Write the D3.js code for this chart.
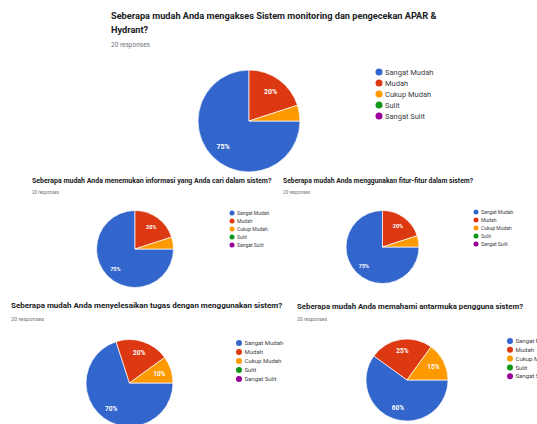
<!DOCTYPE html>
<html>
<head>
<meta charset="utf-8">
<script src="https://cdn.jsdelivr.net/npm/d3@7"></script>
<style>
  html, body { margin: 0; padding: 0; background: #fff; }
  svg { display: block; font-family: Roboto, Arial, sans-serif; }
  .title { fill: #202124; font-weight: 700; }
  .sub { fill: #70757a; }
  .legend text { fill: #3c4043; }
  .pct { fill: #fff; font-weight: 700; }
</style>
</head>
<body>
<svg id="vis"></svg>
<script>
// answer categories + colours (google forms palette)
const categories = ['Sangat Mudah', 'Mudah', 'Cukup Mudah', 'Sulit', 'Sangat Sulit'];
const colors = ['#3366cc', '#dc3912', '#ff9900', '#109618', '#990099'];

const titles = [
  ['Seberapa mudah Anda mengakses Sistem monitoring dan pengecekan APAR &', 'Hydrant?'],
  ['Seberapa mudah Anda menemukan informasi yang Anda cari dalam sistem?'],
  ['Seberapa mudah Anda menggunakan fitur-fitur dalam sistem?'],
  ['Seberapa mudah Anda menyelesaikan tugas dengan menggunakan sistem?'],
  ['Seberapa mudah Anda memahami antarmuka pengguna sistem?']
];
const responses = [20, 20, 20, 20, 20];

// percentages per question, same order as categories
const q1 = [75, 20, 5, 0, 0];
const q2 = [75, 20, 5, 0, 0];
const q3 = [75, 20, 5, 0, 0];
const q4 = [70, 20, 10, 0, 0];
const q5 = [60, 25, 15, 0, 0];
const values = [q1, q2, q3, q4, q5];

// where each screenshot panel sits on the page
const layout = [
  {tx: 111, ty: 19, lh: 14, ts: 9.2, sy: 46.5, ss: 6.5, cx: 249, cy: 121, r: 51, lx: 379, ly: 72, step: 11, dr: 3.5, ls: 7.5, ps: 7},
  {tx: 32, ty: 183, lh: 0, ts: 7, sy: 194, ss: 4.5, cx: 135, cy: 249, r: 38.5, lx: 232, ly: 213, step: 8, dr: 2.5, ls: 5, ps: 5.5},
  {tx: 283, ty: 183.3, lh: 0, ts: 6.8, sy: 194.3, ss: 4.5, cx: 382.5, cy: 247, r: 36.5, lx: 476, ly: 212, step: 8, dr: 2.5, ls: 5, ps: 5.5},
  {tx: 11, ty: 307.5, lh: 0, ts: 8, sy: 320.5, ss: 5.5, cx: 129.5, cy: 383, r: 43.5, lx: 239, ly: 343, step: 9, dr: 3, ls: 6, ps: 6.5},
  {tx: 297, ty: 308.5, lh: 0, ts: 7.8, sy: 321, ss: 5, cx: 407, cy: 380, r: 41, lx: 510, ly: 341, step: 8.8, dr: 3, ls: 6, ps: 6.5}
];

const W = 537, H = 424;
const svg = d3.select('#vis').attr('width', W).attr('height', H);

const color = d3.scaleOrdinal().domain(categories).range(colors);

// pie starts at 3 o'clock, clockwise, no sorting (like google charts here)
const pie = d3.pie()
  .sort(null)
  .value(d => d.value)
  .startAngle(Math.PI / 2)
  .endAngle(Math.PI / 2 + 2 * Math.PI);

function drawPanel(i) {
  const L = layout[i];
  const g = svg.append('g').attr('class', 'panel');

  g.selectAll('text.title')
    .data(titles[i])
    .enter()
    .append('text')
    .attr('class', 'title')
    .attr('x', L.tx)
    .attr('y', (d, k) => L.ty + k * L.lh)
    .style('font-size', L.ts + 'px')
    .text(d => d);

  g.append('text')
    .attr('class', 'sub')
    .attr('x', L.tx)
    .attr('y', L.sy)
    .style('font-size', L.ss + 'px')
    .text(responses[i] + ' responses');

  const rows = categories.map((c, k) => ({name: c, value: values[i][k]}));
  const arcs = pie(rows).filter(d => d.data.value > 0);
  const arc = d3.arc().innerRadius(0).outerRadius(L.r);
  const labelArc = d3.arc().innerRadius(L.r * 0.72).outerRadius(L.r * 0.72);

  const pg = g.append('g').attr('transform', `translate(${L.cx},${L.cy})`);
  pg.selectAll('path')
    .data(arcs)
    .enter()
    .append('path')
    .attr('d', arc)
    .style('fill', d => color(d.data.name))
    .style('stroke', '#fff')
    .style('stroke-width', 0.7);

  pg.selectAll('text.pct')
    .data(arcs.filter(d => d.data.value >= 10))
    .enter()
    .append('text')
    .attr('class', 'pct')
    .attr('transform', d => `translate(${labelArc.centroid(d)})`)
    .attr('text-anchor', 'middle')
    .attr('dy', '0.35em')
    .style('font-size', L.ps + 'px')
    .text(d => d.data.value + '%');

  const lg = g.append('g').attr('class', 'legend');
  const item = lg.selectAll('g')
    .data(categories)
    .enter()
    .append('g')
    .attr('transform', (d, k) => `translate(${L.lx},${L.ly + k * L.step})`);
  item.append('circle')
    .attr('r', L.dr)
    .style('fill', d => color(d));
  item.append('text')
    .attr('x', L.dr + 2.5)
    .attr('dy', '0.35em')
    .style('font-size', L.ls + 'px')
    .text(d => d);
}

layout.forEach((L, i) => drawPanel(i));
</script>
</body>
</html>
